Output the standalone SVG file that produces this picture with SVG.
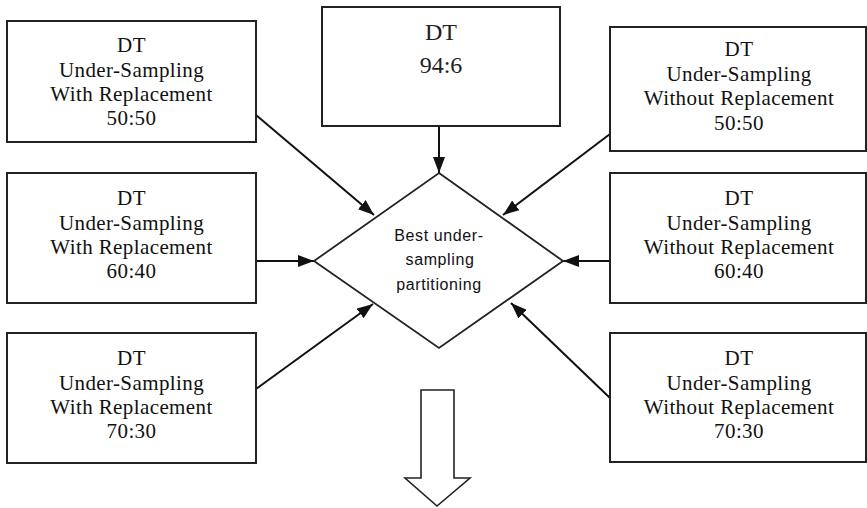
<svg xmlns="http://www.w3.org/2000/svg" width="867" height="508" viewBox="0 0 867 508">
  <defs>
    <marker id="arrow" viewBox="0 0 16 12" refX="16" refY="6" markerWidth="16" markerHeight="12" markerUnits="userSpaceOnUse" orient="auto">
      <path d="M0,0 L16,6 L0,12 Z" fill="#111"/>
    </marker>
  </defs>
  <style>
    .box { fill: #fff; stroke: #222; stroke-width: 2; }
    .lbl { font-family: "Liberation Serif", "Times New Roman", serif; font-size: 21px; letter-spacing: 0.4px; fill: #111; text-anchor: middle; }
    .big { font-family: "Liberation Serif", "Times New Roman", serif; font-size: 24px; fill: #222; text-anchor: middle; }
    .dia { font-family: "Liberation Sans", Arial, sans-serif; font-size: 16px; letter-spacing: 0.6px; fill: #111; text-anchor: middle; }
    .edge { stroke: #111; stroke-width: 2; fill: none; marker-end: url(#arrow); }
  </style>
  <rect width="867" height="508" fill="#fff"/>

  <g id="connectors">
    <line class="edge" x1="439" y1="126" x2="439" y2="173"/>
    <line class="edge" x1="256" y1="115" x2="374" y2="215"/>
    <line class="edge" x1="256" y1="261" x2="314" y2="261"/>
    <line class="edge" x1="256" y1="389" x2="373" y2="304"/>
    <line class="edge" x1="610" y1="134" x2="503" y2="215"/>
    <line class="edge" x1="610" y1="261" x2="563" y2="261"/>
    <line class="edge" x1="610" y1="398" x2="511" y2="303"/>
  </g>

  <g id="dt-94-6">
    <rect class="box" x="322" y="7" width="238" height="119"/>
    <text class="big" x="441" y="40">DT</text>
    <text class="big" x="441" y="73">94:6</text>
  </g>

  <g id="with-50-50">
    <rect class="box" x="7" y="21" width="249" height="121"/>
    <text class="lbl" x="131.5" y="52">DT</text>
    <text class="lbl" x="131.5" y="77">Under-Sampling</text>
    <text class="lbl" x="131.5" y="101">With Replacement</text>
    <text class="lbl" x="131.5" y="125">50:50</text>
  </g>

  <g id="with-60-40">
    <rect class="box" x="7" y="173" width="249" height="130"/>
    <text class="lbl" x="131.5" y="205">DT</text>
    <text class="lbl" x="131.5" y="230">Under-Sampling</text>
    <text class="lbl" x="131.5" y="254">With Replacement</text>
    <text class="lbl" x="131.5" y="278">60:40</text>
  </g>

  <g id="with-70-30">
    <rect class="box" x="7" y="333" width="249" height="130"/>
    <text class="lbl" x="131.5" y="365">DT</text>
    <text class="lbl" x="131.5" y="390">Under-Sampling</text>
    <text class="lbl" x="131.5" y="414">With Replacement</text>
    <text class="lbl" x="131.5" y="438">70:30</text>
  </g>

  <g id="without-50-50">
    <rect class="box" x="610" y="27" width="256" height="124"/>
    <text class="lbl" x="739" y="56">DT</text>
    <text class="lbl" x="739" y="81">Under-Sampling</text>
    <text class="lbl" x="739" y="105">Without Replacement</text>
    <text class="lbl" x="739" y="130">50:50</text>
  </g>

  <g id="without-60-40">
    <rect class="box" x="610" y="173" width="256" height="130"/>
    <text class="lbl" x="739" y="205">DT</text>
    <text class="lbl" x="739" y="230">Under-Sampling</text>
    <text class="lbl" x="739" y="254">Without Replacement</text>
    <text class="lbl" x="739" y="278">60:40</text>
  </g>

  <g id="without-70-30">
    <rect class="box" x="610" y="333" width="256" height="129"/>
    <text class="lbl" x="739" y="365">DT</text>
    <text class="lbl" x="739" y="390">Under-Sampling</text>
    <text class="lbl" x="739" y="414">Without Replacement</text>
    <text class="lbl" x="739" y="438">70:30</text>
  </g>

  <g id="best-partitioning">
    <polygon points="439,173 563,261 439,348 314,261" fill="#fff" stroke="#222" stroke-width="1.8"/>
    <text class="dia" x="439" y="241">Best under-</text>
    <text class="dia" x="440" y="265">sampling</text>
    <text class="dia" x="439" y="290">partitioning</text>
  </g>

  <g id="result-arrow">
    <polygon points="421,390 454,390 454,478 470,478 437,506 405,478 421,478" fill="#fff" stroke="#222" stroke-width="1.6" stroke-linejoin="miter"/>
  </g>
</svg>
